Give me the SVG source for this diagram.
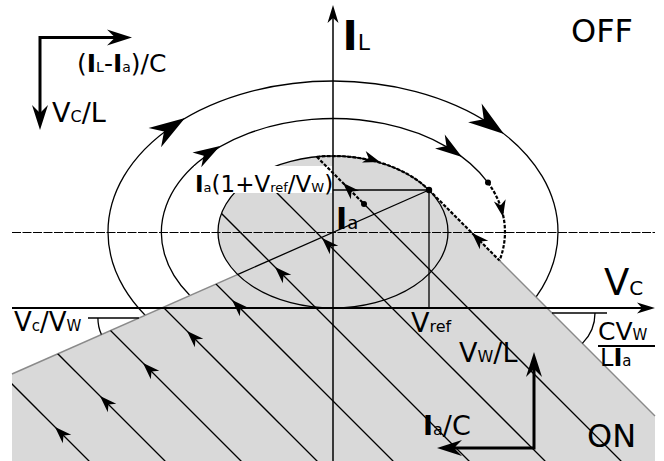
<svg xmlns="http://www.w3.org/2000/svg" xmlns:xlink="http://www.w3.org/1999/xlink" width="664" height="461" viewBox="0 0 664 461">
<style>
.ln{fill:none;stroke:#000;stroke-width:1.3}
.ax{fill:none;stroke:#000}
.dsh{fill:none;stroke:#000;stroke-width:2.2;stroke-dasharray:3.5,1.6}
.edge{fill:none;stroke:#8a8a8a;stroke-width:1.5}
.thick{fill:none;stroke:#000;stroke-width:3}
.ah{fill:#000;stroke:none}
text{font-family:'DejaVu Sans','Liberation Sans',sans-serif;fill:#000}
.b{font-weight:bold}
</style>
<defs>
<path id="ab" d="M0,0 L-36,-11.5 L-25,0 L-36,11.5 Z"/>
<path id="am" d="M0,0 L-27,-8.5 L-19,0 L-27,8.5 Z"/>
<path id="as" d="M0,0 L-17,-6 L-12,0 L-17,6 Z"/>
<path id="ax" d="M0,0 L-18,-5.5 L-13,0 L-18,5.5 Z"/>
<path id="at" d="M0,0 L-25,-8 L-17,0 L-25,8 Z"/>
<clipPath id="onclip">
<path d="M12,374 L429,190 L655,416 L655,461 L12,461 Z"/>
<ellipse cx="333" cy="232" rx="115" ry="76"/>
</clipPath>
</defs>

<g id="off-trajectories">
<ellipse class="ln" cx="333" cy="232" rx="225" ry="151"/>
<path class="ln" d="M189.5,295 A172,114 0 1 1 488,182.6"/>
<path class="dsh" d="M488,182.6 A172,114 0 0 1 499.5,260.5"/>
</g>

<g id="on-region">
<path d="M12,374 L429,190 L655,416 L655,461 L12,461 Z" fill="#d9d9d9"/>
<ellipse cx="333" cy="232" rx="115" ry="76" fill="#d9d9d9"/>
<line class="edge" x1="12" y1="374" x2="237.4" y2="274.6"/>
<line class="edge" x1="499.5" y1="260.5" x2="655" y2="416"/>
</g>

<g id="on-trajectories" clip-path="url(#onclip)">
<line class="ln" x1="-100" y1="272" x2="700" y2="1072"/>
<line class="ln" x1="-100" y1="196" x2="700" y2="996"/>
<line class="ln" x1="-100" y1="120" x2="700" y2="920"/>
<line class="ln" x1="-100" y1="44" x2="700" y2="844"/>
<line class="ln" x1="-100" y1="-32" x2="700" y2="768"/>
<line class="ln" x1="-100" y1="-108" x2="700" y2="692"/>
<line class="ln" x1="-100" y1="-184" x2="700" y2="616"/>
<line class="ln" x1="364" y1="204" x2="700" y2="540"/>
</g>

<g id="inner-ellipse">
<ellipse class="ln" cx="333" cy="232" rx="115" ry="76"/>
</g>

<g id="label-bg">
<rect x="194" y="166" width="138" height="27" fill="#fff"/>
</g>

<g id="axes">
<line class="ax" stroke-width="1.1" stroke-dasharray="9,1.5" x1="12" y1="232.5" x2="655" y2="232.5"/>
<line class="ax" stroke-width="2" x1="12" y1="308" x2="643" y2="308"/>
<use href="#ax" class="ah" transform="translate(655,308)"/>
<line class="ax" stroke-width="1.5" x1="333" y1="461" x2="333" y2="18"/>
<use href="#ax" class="ah" transform="translate(333,5) rotate(-90)"/>
</g>

<g id="equilibrium">
<line class="ln" x1="237.4" y1="274.6" x2="429" y2="190"/>
<line class="ln" x1="333" y1="190" x2="429" y2="190"/>
<line class="ln" x1="429" y1="190" x2="429" y2="308"/>
<path class="dsh" d="M316.8,156.8 A115,76 0 0 1 429,190.1"/>
<line class="dsh" x1="429" y1="190" x2="499.5" y2="260.5"/>
<line class="dsh" x1="316.8" y1="156.8" x2="364" y2="204"/>
<circle cx="364" cy="204" r="3"/>
<circle cx="488" cy="182.6" r="3"/>
<circle cx="429" cy="190" r="3.2"/>
</g>

<g id="arrowheads" class="ah">
<use href="#ab" transform="translate(185,118) rotate(-33)"/>
<use href="#ab" transform="translate(504,134) rotate(36)"/>
<use href="#am" transform="translate(220,146) rotate(-31)"/>
<use href="#am" transform="translate(462,157) rotate(35)"/>
<use href="#as" transform="translate(503,217) rotate(79)"/>
<use href="#as" transform="translate(380,162) rotate(18)"/>
<use href="#as" transform="translate(472,233) rotate(-135)"/>
<use href="#as" transform="translate(343,183) rotate(-135)"/>
<use href="#as" transform="translate(55,427) rotate(-135)"/>
<use href="#as" transform="translate(100,396) rotate(-135)"/>
<use href="#as" transform="translate(143,363) rotate(-135)"/>
<use href="#as" transform="translate(187,331) rotate(-135)"/>
<use href="#as" transform="translate(232,300) rotate(-135)"/>
<use href="#as" transform="translate(275,267) rotate(-135)"/>
<use href="#as" transform="translate(322,238) rotate(-135)"/>
</g>

<g id="angle-marks">
<line class="ln" x1="88" y1="318" x2="138.9" y2="318"/>
<path class="ln" d="M97.9,318 A41,41 0 0 0 101.4,334.6"/>
<line class="ln" x1="552" y1="313" x2="607" y2="313"/>
<path class="ln" d="M595,313 A43,43 0 0 1 582.4,343.4"/>
<line class="ax" stroke-width="2" x1="598" y1="346" x2="655" y2="346"/>
</g>

<g id="direction-off">
<path class="thick" d="M115,37.5 H40 V113"/>
<use href="#at" class="ah" transform="translate(132,37.5)"/>
<use href="#at" class="ah" transform="translate(40,130) rotate(90)"/>
<text x="77" y="72" font-size="25">(<tspan class="b">I</tspan><tspan font-size="14">L</tspan>-<tspan class="b">I</tspan><tspan font-size="14">a</tspan>)/C</text>
<text x="52" y="122" font-size="27">V<tspan font-size="16">C</tspan>/L</text>
</g>

<g id="direction-on">
<path class="thick" d="M534,369 V448 H454"/>
<use href="#at" class="ah" transform="translate(534,352) rotate(-90)"/>
<use href="#at" class="ah" transform="translate(437,448) rotate(180)"/>
<text x="459" y="362" font-size="27">V<tspan font-size="16">W</tspan>/L</text>
<text x="423" y="435" font-size="27"><tspan class="b">I</tspan><tspan font-size="16">a</tspan>/C</text>
</g>

<g id="labels">
<text x="571" y="42" font-size="32">OFF</text>
<text x="587" y="447" font-size="32">ON</text>
<text x="342.5" y="50" font-size="41"><tspan class="b">I</tspan><tspan font-size="22">L</tspan></text>
<text x="604" y="295" font-size="37">V<tspan font-size="20">C</tspan></text>
<text x="411" y="332" font-size="27">V<tspan font-size="16">ref</tspan></text>
<text x="336" y="229" font-size="30"><tspan class="b">I</tspan><tspan font-size="18">a</tspan></text>
<text x="195" y="192" font-size="23"><tspan class="b">I</tspan><tspan font-size="13">a</tspan>(1+V<tspan font-size="13">ref</tspan>/V<tspan font-size="13">W</tspan>)</text>
<text x="14" y="331" font-size="26">V<tspan font-size="15">c</tspan>/V<tspan font-size="15">W</tspan></text>
<text x="598" y="340" font-size="25">CV<tspan font-size="15">W</tspan></text>
<text x="600" y="366" font-size="24">L<tspan class="b">I</tspan><tspan font-size="15">a</tspan></text>
</g>
</svg>
